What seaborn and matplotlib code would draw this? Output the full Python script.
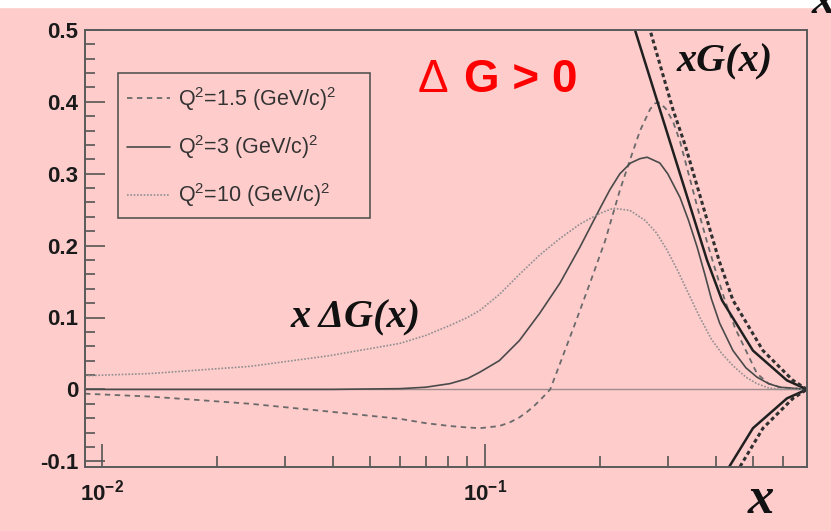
import numpy as np
import pandas as pd
import matplotlib
matplotlib.use("Agg")
import matplotlib.pyplot as plt
from matplotlib.patches import Rectangle
from matplotlib.ticker import FixedLocator, NullFormatter, MultipleLocator, FuncFormatter
import seaborn as sns

# ---------------- data ----------------
# x * DeltaG(x) for three Q^2 values
dg15_x = [0.00903, 0.01334, 0.02434, 0.03938, 0.060, 0.070, 0.081, 0.090, 0.097, 0.109,
          0.116, 0.123, 0.129, 0.135, 0.141, 0.148, 0.157, 0.172, 0.188, 0.206, 0.225,
          0.239, 0.254, 0.270, 0.278, 0.286, 0.297, 0.310, 0.323, 0.340, 0.360, 0.380,
          0.400, 0.423, 0.450, 0.480, 0.513, 0.550, 0.589, 0.693]
dg15_y = [-0.006, -0.010, -0.020, -0.031, -0.041, -0.047, -0.051, -0.053, -0.054, -0.051,
          -0.046, -0.039, -0.031, -0.022, -0.012, 0.000, 0.036, 0.092, 0.148, 0.207, 0.277,
          0.319, 0.360, 0.390, 0.398, 0.399, 0.390, 0.372, 0.345, 0.300, 0.250, 0.205,
          0.165, 0.124, 0.085, 0.054, 0.022, 0.008, 0.003, 0.000]

dg3_x = [0.00903, 0.040, 0.060, 0.070, 0.081, 0.090, 0.097, 0.109, 0.123, 0.139, 0.157,
         0.177, 0.1997, 0.212, 0.225, 0.240, 0.254, 0.265, 0.286, 0.300, 0.323, 0.340,
         0.358, 0.375, 0.390, 0.410, 0.444, 0.480, 0.513, 0.550, 0.589, 0.693]
dg3_y = [0.000, 0.000, 0.001, 0.003, 0.008, 0.015, 0.024, 0.040, 0.068, 0.106, 0.148,
         0.198, 0.252, 0.278, 0.300, 0.315, 0.321, 0.323, 0.315, 0.300, 0.267, 0.235,
         0.198, 0.160, 0.126, 0.092, 0.054, 0.030, 0.017, 0.008, 0.003, 0.000]

dg10_x = [0.00903, 0.01334, 0.02434, 0.03938, 0.060, 0.070, 0.081, 0.090, 0.097, 0.109,
          0.123, 0.139, 0.157, 0.177, 0.1997, 0.216, 0.239, 0.262, 0.280, 0.2986, 0.320,
          0.340, 0.364, 0.390, 0.415, 0.444, 0.480, 0.513, 0.550, 0.589, 0.693]
dg10_y = [0.019, 0.022, 0.032, 0.047, 0.064, 0.075, 0.089, 0.100, 0.110, 0.132,
          0.160, 0.187, 0.210, 0.230, 0.245, 0.252, 0.249, 0.235, 0.218, 0.194, 0.163,
          0.133, 0.100, 0.070, 0.050, 0.033, 0.017, 0.008, 0.002, 0.000, 0.000]

# x * G(x) (unpolarised gluon, drawn as the +/- positivity bound)
xg3_x = [0.2185, 0.2464, 0.3059, 0.3798, 0.4157, 0.5007, 0.6144, 0.693]
xg3_y = [0.590, 0.500, 0.340, 0.180, 0.124, 0.054, 0.0125, 0.000]

xg15_x = [0.2391, 0.2697, 0.3097, 0.3330, 0.4080, 0.4441, 0.5318, 0.6369, 0.693]
xg15_y = [0.596, 0.500, 0.389, 0.340, 0.180, 0.124, 0.054, 0.0125, 0.000]

legend_labels = ["Q$^2$=1.5 (GeV/c)$^2$", "Q$^2$=3 (GeV/c)$^2$", "Q$^2$=10 (GeV/c)$^2$"]
x_major = [0.01, 0.1]
x_major_labels = [r"$\mathbf{10^{-2}}$", r"$\mathbf{10^{-1}}$"]
x_minor = [0.02, 0.03, 0.04, 0.05, 0.06, 0.07, 0.08, 0.09, 0.2, 0.3, 0.4, 0.5, 0.6]

# ---------------- style ----------------
sns.set_style("ticks")
plt.rcParams['font.family'] = ['Liberation Sans', 'DejaVu Sans']
plt.rcParams['mathtext.fontset'] = 'custom'
plt.rcParams['mathtext.rm'] = 'Liberation Sans'
plt.rcParams['mathtext.bf'] = 'Liberation Sans:bold'
plt.rcParams['mathtext.it'] = 'Liberation Sans:italic'

PINK = '#FFCCCC'
W, H = 831, 531
fig = plt.figure(figsize=(W / 100, H / 100), dpi=100, facecolor=PINK)
fig.patches.append(Rectangle((0, 1 - 7 / H), 1, 7 / H, transform=fig.transFigure,
                             color='white', zorder=0))
ax = fig.add_axes([85 / W, 1 - 467 / H, (807 - 85) / W, (467 - 30) / H])
ax.set_facecolor(PINK)

ax.axhline(0, color='#a08c8c', lw=1.0, zorder=1)

def draw(xs, ys, color, lw, ls, label=None):
    df = pd.DataFrame({"x": xs, "y": ys})
    sns.lineplot(data=df, x="x", y="y", ax=ax, color=color, linewidth=lw,
                 linestyle=ls, estimator=None, sort=False, label=label, legend=False)
    return ax.lines[-1]

h15 = draw(dg15_x, dg15_y, '#6a6a6a', 1.3, (0, (3, 2.5)))
h3 = draw(dg3_x, dg3_y, '#4a4a4a', 1.2, '-')
h10 = draw(dg10_x, dg10_y, '#8f8f8f', 1.2, (0, (1, 1)))
draw(xg3_x, xg3_y, '#202020', 1.8, '-')
draw(xg3_x, [-v for v in xg3_y], '#202020', 1.8, '-')
draw(xg15_x, xg15_y, '#303030', 2.2, (0, (1.3, 1.0)))
draw(xg15_x, [-v for v in xg15_y], '#303030', 2.2, (0, (1.3, 1.0)))

ax.set_xscale('log')
ax.set_xlim(0.00903, 0.693)
ax.set_ylim(-0.108, 0.5)
ax.set_xlabel('')
ax.set_ylabel('')

ax.xaxis.set_major_locator(FixedLocator(x_major))
ax.xaxis.set_major_formatter(FuncFormatter(lambda v, p: x_major_labels[p] if p < len(x_major_labels) else ''))
ax.xaxis.set_minor_locator(FixedLocator(x_minor))
ax.xaxis.set_minor_formatter(NullFormatter())
ax.yaxis.set_major_locator(MultipleLocator(0.1))
ax.yaxis.set_minor_locator(MultipleLocator(0.02))
ax.yaxis.set_major_formatter(FuncFormatter(lambda v, p: '0' if abs(v) < 1e-9 else f'{v:.1f}'))

ax.tick_params(axis='both', which='both', direction='in', top=False, right=False,
               color='#555555', width=1.2, labelcolor='#1a1a1a')
ax.tick_params(axis='y', which='major', length=14.5, pad=5, labelsize=16)
ax.tick_params(axis='y', which='minor', length=7)
ax.tick_params(axis='x', which='major', length=16.5, pad=9, labelsize=16)
ax.tick_params(axis='x', which='minor', length=8)
for lab in ax.get_yticklabels():
    lab.set_fontweight('bold')
for s in ax.spines.values():
    s.set_visible(True)
    s.set_color('#5a5a5a')
    s.set_linewidth(1.4)

# legend: frame drawn as a box, entries placed inside it
fig.patches.append(Rectangle((118 / W, 1 - 218 / H), (370 - 118) / W, (218 - 73) / H,
                             transform=fig.transFigure, facecolor='none',
                             edgecolor='#555555', linewidth=1.2, zorder=5))
leg = ax.legend([h15, h3, h10], legend_labels, loc='upper left',
                bbox_to_anchor=(127 / W, 1 - 85 / H), bbox_transform=fig.transFigure,
                borderaxespad=0, borderpad=0, frameon=False, fontsize=15.5,
                handlelength=2.0, handletextpad=0.37, labelspacing=0.94)
for t in leg.get_texts():
    t.set_color('#333333')

serif = dict(family=['Liberation Serif', 'DejaVu Serif'], weight='bold', style='italic', color='#111111')
fig.text(433 / W, 1 - 80 / H, 'Δ', ha='center', va='center', color='red',
         fontsize=33, fontweight='normal')
fig.text(521 / W, 1 - 80 / H, 'G > 0', ha='center', va='center', color='red',
         fontsize=33, fontweight='bold')
fig.text(725 / W, 1 - 62 / H, 'xG(x)', ha='center', va='center', fontsize=29, **serif)
fig.text(356 / W, 1 - 318 / H, 'x ΔG(x)', ha='center', va='center', fontsize=29, **serif)
fig.text(761 / W, 1 - 500 / H, 'x', ha='center', va='center', fontsize=38, **serif)
fig.text(823 / W, 1 - 2 / H, 'x', ha='center', va='center', fontsize=34, **serif)

fig.savefig('out.png', dpi=100, facecolor=PINK)
